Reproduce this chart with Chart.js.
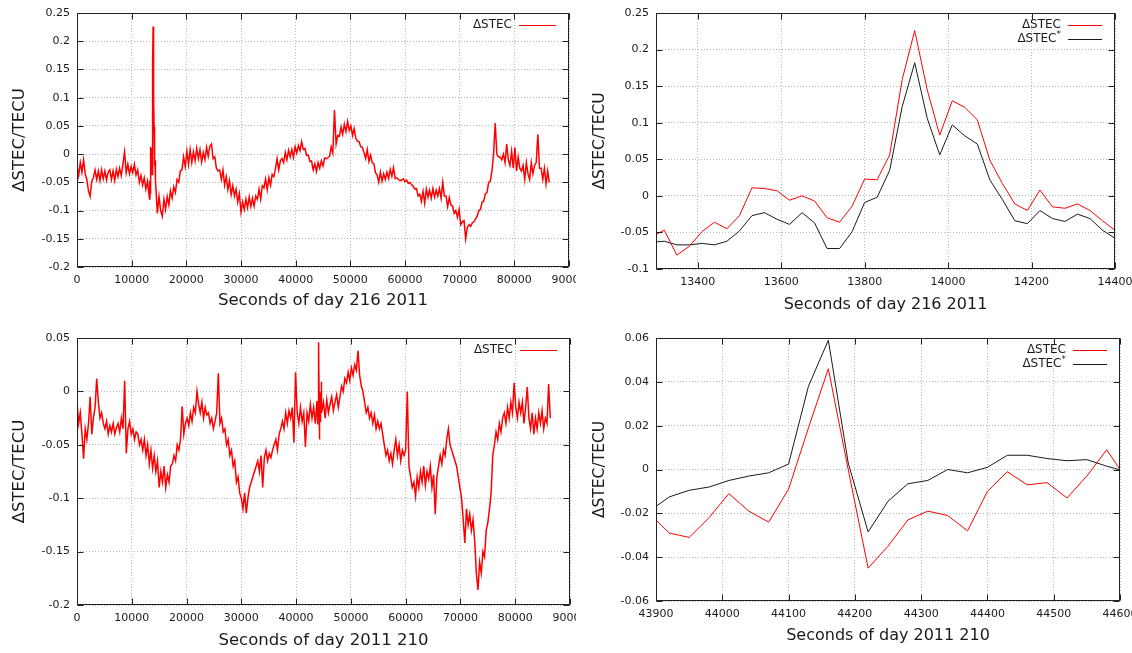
<!DOCTYPE html>
<html>
<head>
<meta charset="utf-8">
<script src="https://cdn.jsdelivr.net/npm/chart.js@4.4.0/dist/chart.umd.min.js"></script>
<style>
  html, body { margin: 0; padding: 0; background: #fff; }
  #wrap { position: relative; width: 1132px; height: 653px; background: #fff; overflow: hidden; }
  #wrap canvas { position: absolute; }
</style>
</head>
<body>
<div id="wrap">
  <canvas id="c216" width="576" height="320" style="left:0;top:0"></canvas>
  <canvas id="c216zoom" width="556" height="320" style="left:576px;top:0"></canvas>
  <canvas id="c210" width="576" height="333" style="left:0;top:320px"></canvas>
  <canvas id="c210zoom" width="556" height="333" style="left:576px;top:320px"></canvas>
</div>
<script>
// ---- data ----

// day 216, whole day, one value every 300 s starting at 0 s
const DAY216_STEP = 300;
const DAY216_DSTEC = [
  -0.02, -0.038, -0.015, -0.032, -0.01, -0.035, -0.045, -0.065, -0.075, -0.048,
  -0.042, -0.028, -0.045, -0.03, -0.047, -0.028, -0.044, -0.03, -0.046, -0.032,
  -0.028, -0.045, -0.03, -0.047, -0.027, -0.04, -0.025, -0.038, -0.018, 0.004,
  -0.033, -0.018, -0.035, -0.022, -0.033, -0.018, -0.037, -0.028, -0.05, -0.038,
  -0.055, -0.042, -0.062, -0.048, -0.075, -0.03, 0.02, 0.05, -0.047, -0.105,
  -0.075, -0.1, -0.11, -0.08, -0.098, -0.075, -0.09, -0.065, -0.078, -0.058,
  -0.068, -0.045, -0.05, -0.03, -0.028, -0.005, -0.022, 0.005, -0.018, 0.008,
  -0.015, 0.004, -0.012, 0.01, -0.008, 0.008, -0.014, 0.003, -0.01, 0.012,
  -0.004, 0.014, 0.018, -0.008, -0.005, -0.025, -0.03, -0.028, -0.045, -0.028,
  -0.055, -0.04, -0.063, -0.047, -0.072, -0.056, -0.074, -0.062, -0.085, -0.07,
  -0.103, -0.085, -0.098, -0.08, -0.095, -0.076, -0.093, -0.078, -0.092, -0.074,
  -0.08, -0.062, -0.08, -0.056, -0.06, -0.044, -0.063, -0.042, -0.055, -0.036,
  -0.04, -0.026, -0.008, -0.028, -0.012, -0.008, -0.015, 0.003, -0.01, 0.007,
  -0.005, 0.008, -0.006, 0.013, 0.002, 0.015, 0.006, 0.022, 0.008, 0.01,
  -0.002, -0.002, -0.013, -0.012, -0.028, -0.017, -0.031, -0.015, -0.025, -0.012,
  -0.021, -0.007, -0.008, -0.006, -0.004, 0.013, 0.002, 0.078, 0.018, 0.033,
  0.032, 0.048, 0.035, 0.053, 0.04, 0.058, 0.042, 0.05, 0.033, 0.045,
  0.028, 0.023, 0.022, 0.013, 0.012, 0.003, -0.008, 0.008, -0.013, -0.002,
  -0.015, -0.017, -0.033, -0.037, -0.05, -0.032, -0.048, -0.035, -0.045, -0.032,
  -0.043, -0.027, -0.039, -0.024, -0.043, -0.042, -0.045, -0.047, -0.046, -0.044,
  -0.049, -0.046, -0.052, -0.05, -0.054, -0.057, -0.062, -0.061, -0.074, -0.071,
  -0.084, -0.066, -0.087, -0.062, -0.076, -0.064, -0.078, -0.061, -0.076, -0.064,
  -0.074, -0.061, -0.078, -0.05, -0.074, -0.074, -0.093, -0.077, -0.09, -0.092,
  -0.105, -0.1, -0.112, -0.098, -0.125, -0.12, -0.118, -0.15, -0.13, -0.125,
  -0.128, -0.122, -0.12, -0.115, -0.11, -0.1, -0.098, -0.085, -0.083, -0.07,
  -0.068, -0.05, -0.048, -0.03, 0.0, 0.055, 0.0, -0.005, -0.005, -0.01,
  0.0, -0.015, 0.018, -0.01, -0.02, 0.005, -0.025, 0.012, -0.03, -0.005,
  -0.025, -0.03, -0.02, -0.045, -0.015, -0.035, -0.045, -0.015, -0.035, -0.02,
  -0.015, 0.035, -0.025, -0.025, -0.045, -0.025, -0.053, -0.03, -0.05
];

// day 216, 30 s samples around the event (13290 s .. 14400 s)
const ZOOM_STEP = 30;
const ZOOM216_START = 13290;
const ZOOM216_DSTEC = [
  -0.056, -0.047, -0.081, -0.069, -0.049, -0.036, -0.045, -0.027, 0.011, 0.010,
  0.007, -0.006, 0.0, -0.007, -0.030, -0.036, -0.014, 0.023, 0.022, 0.056,
  0.159, 0.226, 0.145, 0.083, 0.130, 0.121, 0.104, 0.049, 0.017, -0.011,
  -0.020, 0.008, -0.015, -0.017, -0.011, -0.020, -0.034, -0.047
];
const ZOOM216_DSTEC_STAR = [
  -0.0635, -0.062, -0.067, -0.067, -0.065, -0.067, -0.062, -0.048, -0.027, -0.023,
  -0.032, -0.039, -0.023, -0.037, -0.072, -0.072, -0.049, -0.009, -0.002, 0.035,
  0.122, 0.182, 0.106, 0.056, 0.097, 0.082, 0.071, 0.022, -0.005, -0.034,
  -0.038, -0.020, -0.031, -0.035, -0.025, -0.031, -0.047, -0.058
];

// day 210, whole day, one value every 300 s starting at 0 s
const DAY210_STEP = 300;
const DAY210_DSTEC = [
  -0.01, -0.03, -0.02, -0.04, -0.063, -0.035, -0.045, -0.03, -0.005, -0.04,
  -0.025, -0.015, 0.012, -0.01, -0.025, -0.02, -0.03, -0.035, -0.028, -0.04,
  -0.032, -0.038, -0.03, -0.04, -0.034, -0.03, -0.038, -0.025, -0.035, 0.01,
  -0.058, -0.035, -0.028, -0.04, -0.035, -0.045, -0.038, -0.04, -0.05, -0.045,
  -0.055, -0.045, -0.06, -0.05, -0.068, -0.055, -0.072, -0.06, -0.075, -0.065,
  -0.09, -0.075, -0.085, -0.07, -0.09, -0.078, -0.085, -0.07, -0.068, -0.06,
  -0.065, -0.05, -0.055, -0.045, -0.014, -0.04, -0.03, -0.025, -0.032, -0.02,
  -0.028, -0.015, -0.02, 0.0, -0.012, -0.02, -0.01, -0.025, -0.015, -0.022,
  -0.02, -0.03, -0.025, -0.035, -0.028, -0.02, 0.017, -0.03, -0.025, -0.038,
  -0.035, -0.05, -0.045, -0.06, -0.055, -0.07, -0.065, -0.085, -0.08, -0.095,
  -0.1, -0.11, -0.095, -0.114, -0.1, -0.09, -0.085, -0.08, -0.075, -0.07,
  -0.065, -0.075, -0.06, -0.09, -0.062, -0.055, -0.065, -0.058, -0.062, -0.055,
  -0.05, -0.045, -0.055, -0.04, -0.035, -0.028, -0.035, -0.02, -0.03, -0.018,
  -0.025, -0.015, -0.048, 0.018, -0.02, -0.03, -0.015, -0.028, -0.02, -0.052,
  -0.02, -0.028, -0.012, -0.025, -0.015, -0.03, -0.009, -0.02, -0.01, -0.02,
  -0.01, -0.025, -0.008, -0.02, -0.012, -0.005, -0.018, -0.01, -0.003, -0.015,
  -0.005, 0.005, 0.0, 0.012, 0.008, 0.018, 0.01, 0.022, 0.015, 0.025,
  0.02, 0.038, 0.015, 0.005, 0.0, -0.01, -0.02, -0.015, -0.025, -0.02,
  -0.03, -0.022, -0.035, -0.028, -0.035, -0.03, -0.04, -0.05, -0.06, -0.055,
  -0.065, -0.058, -0.068, -0.055, -0.045, -0.06, -0.05, -0.065, -0.055, -0.06,
  -0.055, 0.0, -0.07, -0.08, -0.09, -0.085, -0.098, -0.08, -0.09, -0.075,
  -0.085, -0.07, -0.088, -0.075, -0.082, -0.07, -0.09, -0.078, -0.115, -0.08,
  -0.07, -0.06, -0.068, -0.055, -0.06, -0.045, -0.035, -0.05, -0.055, -0.06,
  -0.065, -0.07, -0.08, -0.09, -0.1, -0.12, -0.142, -0.11, -0.125, -0.115,
  -0.13, -0.12, -0.14, -0.17, -0.186, -0.16, -0.17, -0.15, -0.155, -0.13,
  -0.123, -0.11, -0.095, -0.06, -0.05, -0.038, -0.045, -0.03, -0.038, -0.025,
  -0.02, -0.03, -0.015, -0.025, -0.01, -0.02, 0.008, -0.015, -0.025, -0.01,
  -0.02, -0.01, -0.03, -0.015, 0.004, -0.025, -0.035, -0.02, -0.04, -0.025,
  -0.035, -0.02, -0.03, -0.018, -0.035, -0.025, -0.03, 0.007, -0.025
];

// day 210, 30 s samples around the event (43890 s .. 44610 s)
const ZOOM210_START = 43890;
const ZOOM210_DSTEC = [
  -0.020, -0.029, -0.031, -0.022, -0.011, -0.019, -0.024, -0.009, 0.019, 0.046,
  0.000, -0.045, -0.035, -0.023, -0.019, -0.021, -0.028, -0.010, -0.001, -0.007,
  -0.006, -0.013, -0.003, 0.009, -0.0045
];
const ZOOM210_DSTEC_STAR = [
  -0.019, -0.0125, -0.0095, -0.008, -0.005, -0.003, -0.0015, 0.0025, 0.038, 0.059,
  0.003, -0.0285, -0.0145, -0.0065, -0.005, 0.0, -0.0015, 0.001, 0.0065, 0.0065,
  0.005, 0.004, 0.0045, 0.0015, -0.001
];

// tick labels
const DAY_X_TICKS = [0, 10000, 20000, 30000, 40000, 50000, 60000, 70000, 80000, 90000];
const DAY216_Y_TICKS = [-0.2, -0.15, -0.1, -0.05, 0, 0.05, 0.1, 0.15, 0.2, 0.25];
const DAY210_Y_TICKS = [-0.2, -0.15, -0.1, -0.05, 0, 0.05];
const ZOOM216_X_TICKS = [13400, 13600, 13800, 14000, 14200, 14400];
const ZOOM216_Y_TICKS = [-0.1, -0.05, 0, 0.05, 0.1, 0.15, 0.2, 0.25];
const ZOOM210_X_TICKS = [43900, 44000, 44100, 44200, 44300, 44400, 44500, 44600];
const ZOOM210_Y_TICKS = [-0.06, -0.04, -0.02, 0, 0.02, 0.04, 0.06];

const FONT = "'DejaVu Sans', Verdana, sans-serif";
const TEXT = '#1a1a1a';

// Helper: turn an evenly sampled list into {x, y} points
function toPoints(start, step, values) {
    return values.map((v, i) => ({ x: start + i * step, y: v }));
}

// Helper: overview series with the fine 30 s window spliced in
function withWindow(coarse, fine) {
    const a = fine[0].x, b = fine[fine.length - 1].x;
    return coarse.filter(p => p.x < a || p.x > b).concat(fine).sort((p, q) => p.x - q.x);
}

function fmt(v) {
    return String(parseFloat(v.toFixed(4)));
}

// gnuplot style frame: full border plus inward ticks on all four sides
const frame = {
    id: 'frame',
    afterDraw(chart) {
        const { ctx, chartArea: a, scales: { x, y } } = chart;
        const L = Math.round(a.left) + 0.5, R = Math.round(a.right) - 0.5;
        const T = Math.round(a.top) + 0.5, B = Math.round(a.bottom) - 0.5;
        ctx.save();
        ctx.strokeStyle = '#222';
        ctx.lineWidth = 1;
        ctx.beginPath();
        x.ticks.forEach(t => {
            const px = Math.round(x.getPixelForValue(t.value)) + 0.5;
            ctx.moveTo(px, B); ctx.lineTo(px, B - 6);
            ctx.moveTo(px, T); ctx.lineTo(px, T + 6);
        });
        y.ticks.forEach(t => {
            const py = Math.round(y.getPixelForValue(t.value)) + 0.5;
            ctx.moveTo(L, py); ctx.lineTo(L + 6, py);
            ctx.moveTo(R, py); ctx.lineTo(R - 6, py);
        });
        ctx.stroke();
        ctx.strokeRect(L, T, R - L, B - T);
        ctx.restore();
    }
};

// key in the top right corner: label first, then the line sample
const keyBox = {
    id: 'keyBox',
    afterDraw(chart, args, opts) {
        const { ctx, chartArea: a } = chart;
        ctx.save();
        chart.data.datasets.forEach((ds, i) => {
            const y = a.top + opts.top + i * 14;
            const x0 = a.right - opts.lineStart, x1 = a.right - 13;
            ctx.strokeStyle = ds.borderColor;
            ctx.lineWidth = 1;
            ctx.beginPath();
            ctx.moveTo(x0, Math.round(y) + 0.5);
            ctx.lineTo(x1, Math.round(y) + 0.5);
            ctx.stroke();

            ctx.fillStyle = TEXT;
            ctx.textBaseline = 'middle';
            ctx.textAlign = 'right';
            let tx = x0 - 7;
            let label = ds.label;
            if (label.endsWith('*')) {
                label = label.slice(0, -1);
                ctx.font = '9px ' + FONT;
                ctx.fillText('*', tx, y - 4);
                tx -= ctx.measureText('*').width;
            }
            ctx.font = '12px ' + FONT;
            ctx.fillText(label, tx, y);
        });
        ctx.restore();
    }
};

function makePanel(id, datasets, o) {
    const tickList = list => scale => { scale.ticks = list.map(v => ({ value: v })); };
    return new Chart(document.getElementById(id), {
        type: 'line',
        data: { datasets: datasets },
        options: {
            responsive: false,
            animation: false,
            devicePixelRatio: 1,
            layout: { padding: { top: o.top, right: o.right, left: 0, bottom: 0 } },
            elements: { point: { radius: 0 }, line: { borderWidth: o.lineW, tension: 0 } },
            plugins: {
                legend: { display: false },
                tooltip: { enabled: false },
                keyBox: { top: 12, lineStart: o.keyLine }
            },
            scales: {
                x: {
                    type: 'linear',
                    min: o.xMin, max: o.xMax,
                    afterBuildTicks: tickList(o.xTicks),
                    afterFit: s => { s.height = o.xAxisH; s.paddingLeft = 0; s.paddingRight = 0; },
                    grid: { color: '#b8b8b8', drawTicks: false },
                    border: { display: false, dash: [1, 2] },
                    ticks: {
                        autoSkip: false, maxRotation: 0, padding: 7,
                        color: TEXT, font: { family: FONT, size: 11 },
                        callback: v => fmt(v)
                    },
                    title: {
                        display: true, text: o.xTitle, color: TEXT,
                        font: { family: FONT, size: o.xTitleSize },
                        padding: { top: 0, bottom: o.xTitlePad }
                    }
                },
                y: {
                    min: o.yMin, max: o.yMax,
                    afterBuildTicks: tickList(o.yTicks),
                    afterFit: s => { s.width = o.yAxisW; s.paddingTop = 0; s.paddingBottom = 0; },
                    grid: { color: '#b8b8b8', drawTicks: false },
                    border: { display: false, dash: [1, 2] },
                    ticks: {
                        autoSkip: false, padding: 7,
                        color: TEXT, font: { family: FONT, size: 11 },
                        callback: v => fmt(v)
                    },
                    title: {
                        display: true, text: 'ΔSTEC/TECU', color: TEXT,
                        font: { family: FONT, size: o.yTitleSize },
                        padding: { top: o.yTitlePad, bottom: 0 }
                    }
                }
            }
        },
        plugins: [frame, keyBox]
    });
}

const RED = '#ff0000';
const BLACK = '#1a1a1a';

const zoom216 = toPoints(ZOOM216_START, ZOOM_STEP, ZOOM216_DSTEC);
const zoom216s = toPoints(ZOOM216_START, ZOOM_STEP, ZOOM216_DSTEC_STAR);
const zoom210 = toPoints(ZOOM210_START, ZOOM_STEP, ZOOM210_DSTEC);
const zoom210s = toPoints(ZOOM210_START, ZOOM_STEP, ZOOM210_DSTEC_STAR);
const day216 = withWindow(toPoints(0, DAY216_STEP, DAY216_DSTEC), zoom216);
const day210 = withWindow(toPoints(0, DAY210_STEP, DAY210_DSTEC), zoom210);

makePanel('c216', [
    { label: 'ΔSTEC', data: day216, borderColor: RED }
], {
    xMin: 0, xMax: 90000, xTicks: DAY_X_TICKS, yMin: -0.2, yMax: 0.25, yTicks: DAY216_Y_TICKS,
    xTitle: 'Seconds of day 216 2011', top: 13, right: 7, yAxisW: 77, xAxisH: 53,
    xTitleSize: 16.5, xTitlePad: 9.6, yTitleSize: 16.5, yTitlePad: 10, keyLine: 50, lineW: 1.5
});

makePanel('c216zoom', [
    { label: 'ΔSTEC', data: zoom216, borderColor: RED },
    { label: 'ΔSTEC*', data: zoom216s, borderColor: BLACK }
], {
    xMin: 13300, xMax: 14400, xTicks: ZOOM216_X_TICKS, yMin: -0.1, yMax: 0.25, yTicks: ZOOM216_Y_TICKS,
    xTitle: 'Seconds of day 216 2011', top: 13, right: 17, yAxisW: 80, xAxisH: 51,
    xTitleSize: 16, xTitlePad: 5.4, yTitleSize: 15.5, yTitlePad: 14.7, keyLine: 47, lineW: 1
});

makePanel('c210', [
    { label: 'ΔSTEC', data: day210, borderColor: RED }
], {
    xMin: 0, xMax: 90000, xTicks: DAY_X_TICKS, yMin: -0.2, yMax: 0.05, yTicks: DAY210_Y_TICKS,
    xTitle: 'Seconds of day 2011 210', top: 18, right: 6, yAxisW: 77, xAxisH: 48,
    xTitleSize: 16.5, xTitlePad: 2.1, yTitleSize: 16.5, yTitlePad: 10, keyLine: 50, lineW: 1.5
});

makePanel('c210zoom', [
    { label: 'ΔSTEC', data: zoom210, borderColor: RED },
    { label: 'ΔSTEC*', data: zoom210s, borderColor: BLACK }
], {
    xMin: 43900, xMax: 44600, xTicks: ZOOM210_X_TICKS, yMin: -0.06, yMax: 0.06, yTicks: ZOOM210_Y_TICKS,
    xTitle: 'Seconds of day 2011 210', top: 18, right: 12, yAxisW: 80, xAxisH: 52,
    xTitleSize: 16, xTitlePad: 7.4, yTitleSize: 15.5, yTitlePad: 14.7, keyLine: 47, lineW: 1
});
</script>
</body>
</html>
